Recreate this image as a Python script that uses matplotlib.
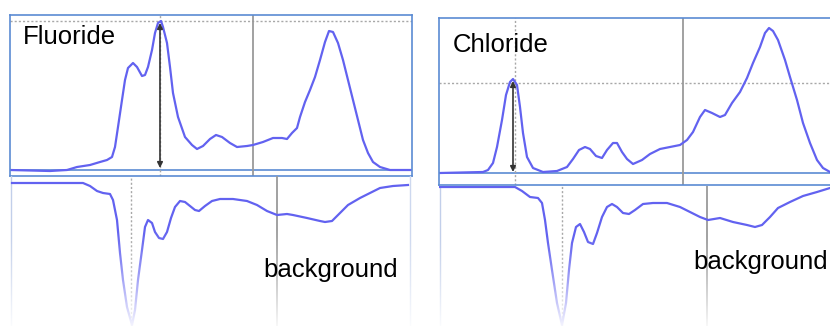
import numpy as np
import matplotlib
matplotlib.use("Agg")
import matplotlib.pyplot as plt

plt.rcParams['font.family'] = ['Liberation Sans', 'DejaVu Sans']

# --- traces (scan position, signal above baseline) ---
fl_x = [10, 50, 67, 77, 90, 100, 107, 112, 115, 118, 122, 125, 128, 133, 137, 142, 145,
        148, 152, 155, 158, 161, 163, 167, 170, 173, 178, 185, 192, 197, 203, 210, 216,
        222, 230, 237, 247, 253, 263, 273, 282, 287, 292, 297, 300, 305, 310, 315, 320,
        325, 329, 333, 338, 343, 348, 353, 358, 363, 368, 373, 380, 390, 410]
fl_y = [0, -1, 0, 3, 5, 8, 10, 13, 23, 43, 70, 90, 102, 107, 103, 94, 95,
        103, 120, 137, 147, 149, 143, 127, 103, 77, 53, 33, 25, 21, 24, 31, 35,
        33, 27, 23, 24, 25, 28, 32, 32, 31, 37, 42, 53, 68, 80, 93, 110,
        128, 139, 138, 127, 110, 90, 70, 50, 30, 17, 8, 3, 0, 0]

cl_x = [440, 483, 488, 493, 497, 502, 506, 510, 513, 517, 520, 523, 527, 533, 543, 557,
        567, 573, 579, 585, 590, 596, 602, 607, 613, 617, 622, 627, 633, 642, 650, 660,
        670, 680, 687, 693, 700, 705, 712, 720, 725, 732, 740, 747, 753, 760, 765, 769,
        773, 778, 785, 790, 797, 803, 810, 817, 823, 830]
cl_y = [0, 1, 3, 10, 26, 53, 78, 91, 94, 88, 66, 40, 16, 5, 1, 2,
        6, 14, 23, 26, 24, 17, 15, 23, 30, 30, 21, 14, 9, 13, 19, 24,
        26, 28, 33, 41, 56, 63, 60, 56, 58, 70, 81, 95, 110, 126, 140, 145,
        142, 133, 113, 96, 73, 50, 30, 13, 5, 1]

bgf_x = [12, 83, 90, 97, 103, 110, 113, 117, 120, 123, 127, 132, 135, 138, 142, 145, 148,
         152, 155, 159, 163, 167, 171, 175, 180, 185, 190, 195, 199, 205, 212, 220, 233,
         247, 257, 267, 277, 287, 293, 307, 320, 325, 332, 340, 348, 360, 370, 380, 393,
         408]
bgf_y = [0, 0, -3, -8, -10, -11, -17, -37, -70, -97, -124, -142, -127, -97, -67, -44, -37,
         -40, -49, -55, -56, -49, -35, -24, -18, -19, -23, -27, -28, -23, -18, -16, -16,
         -18, -22, -28, -32, -31, -32, -35, -38, -39, -38, -30, -22, -15, -10, -5, -3,
         -2]

bgc_x = [440, 515, 522, 530, 538, 542, 545, 548, 552, 557, 562, 566, 569, 572, 576, 580,
         584, 588, 593, 597, 602, 607, 612, 617, 623, 629, 635, 643, 653, 667, 680, 690,
         700, 708, 720, 733, 747, 755, 762, 770, 778, 790, 803, 817, 830]
bgc_y = [1, 1, -3, -9, -10, -15, -32, -55, -82, -115, -137, -115, -82, -55, -39, -36,
         -44, -54, -56, -45, -29, -19, -16, -19, -25, -26, -22, -16, -15, -15, -19, -24,
         -29, -32, -30, -34, -37, -39, -37, -29, -20, -14, -8, -4, 0]

panel_titles = ['Fluoride', 'Chloride']
bg_label = 'background'

# peak markers and window split
fl_peak_x, fl_peak_top = 160, 149
cl_peak_x, cl_peak_top = 515, 90
fl_arrow_x, cl_arrow_x = 160, 513
fl_split_x, cl_split_x = 253, 683
bgf_peak_x, bgc_peak_x = 131, 562
bgf_split_x, bgc_split_x = 277, 707

TRACE = '#6262f0'
FRAME = '#5b8bd3'
GREY = '#9a9a9a'
DOT = '#a8a8a8'
DOTTED = (0, (1.5, 1.5))

W, H = 830, 326
fig = plt.figure(figsize=(W / 100, H / 100), dpi=100)


def add_axes(x0, y0, x1, y1):
    # pixel box (top-left origin) -> figure fraction
    return fig.add_axes([x0 / W, (H - y1) / H, (x1 - x0) / W, (y1 - y0) / H])


def style_top(ax):
    ax.set_xticks([])
    ax.set_yticks([])
    for s in ax.spines.values():
        s.set_color(FRAME)
        s.set_linewidth(1.2)


def peak_arrow(ax, x, top, bottom):
    ax.annotate('', xy=(x, top), xytext=(x, bottom),
                arrowprops=dict(arrowstyle='<|-|>', color='#333333', lw=1.2,
                                mutation_scale=8, shrinkA=0, shrinkB=0))


def fade_out(ax):
    # white veil that grows towards the bottom, like a reflected screenshot
    x0, x1 = ax.get_xlim()
    y0, y1 = ax.get_ylim()
    n = 200
    t = np.linspace(0, 1, n)  # 0 = top row, 1 = bottom row
    a = np.clip((t - 0.35) / 0.65, 0, 1) ** 1.2 * 0.93
    img = np.ones((n, 1, 4))
    img[:, 0, 3] = a
    ax.imshow(img, extent=[x0, x1, y0, y1], origin='upper', aspect='auto',
              zorder=5, interpolation='bilinear')
    ax.set_xlim(x0, x1)
    ax.set_ylim(y0, y1)


# ---------------- top panels ----------------
ax_fl = add_axes(10, 15, 412, 176)
ax_fl.set_xlim(10, 412)
ax_fl.set_ylim(-6, 155)
style_top(ax_fl)
ax_fl.axhline(0, color=FRAME, lw=1.2)
ax_fl.axhline(fl_peak_top, color=DOT, lw=1, ls=DOTTED)
ax_fl.axvline(fl_peak_x, color=DOT, lw=1, ls=DOTTED)
ax_fl.axvline(fl_split_x, color=GREY, lw=1.3)
ax_fl.plot(fl_x, fl_y, color=TRACE, lw=1.6)
peak_arrow(ax_fl, fl_arrow_x, fl_peak_top - 2, 2)
ax_fl.text(23, 133, panel_titles[0], fontsize=18.5, ha='left', va='center')

ax_cl = add_axes(439, 18, 834, 185)
ax_cl.set_xlim(439, 834)
ax_cl.set_ylim(-12, 155)
style_top(ax_cl)
ax_cl.axhline(0, color=FRAME, lw=1.2)
ax_cl.axhline(cl_peak_top, color=DOT, lw=1, ls=DOTTED)
ax_cl.axvline(cl_peak_x, color=DOT, lw=1, ls=DOTTED)
ax_cl.axvline(cl_split_x, color=GREY, lw=1.3)
ax_cl.plot(cl_x, cl_y, color=TRACE, lw=1.6)
peak_arrow(ax_cl, cl_arrow_x, cl_peak_top + 2, 1)
ax_cl.text(453, 128, panel_titles[1], fontsize=18.5, ha='left', va='center')

# ---------------- background panels ----------------
ax_bf = add_axes(10, 176, 412, 326)
ax_bf.set_xlim(10, 412)
ax_bf.set_ylim(-143, 7)
ax_bc = add_axes(439, 186, 834, 326)
ax_bc.set_xlim(439, 834)
ax_bc.set_ylim(-138, 2)

for ax in (ax_bf, ax_bc):
    ax.axis('off')

ax_bf.axvline(10.5, color='#c2cfea', lw=1.0)
ax_bf.axvline(410, color='#cdd8ef', lw=1.0)
ax_bf.axvline(bgf_peak_x, color=DOT, lw=1.0, ls=DOTTED)
ax_bf.axvline(bgf_split_x, color=GREY, lw=1.3)
ax_bf.plot(bgf_x, bgf_y, color=TRACE, lw=1.6)
fade_out(ax_bf)
ax_bf.text(331, -87, bg_label, fontsize=18.5, ha='center', va='center', zorder=10)

ax_bc.axvline(439.5, color='#c2cfea', lw=1.0)
ax_bc.axvline(bgc_peak_x, color=DOT, lw=1.0, ls=DOTTED)
ax_bc.axvline(bgc_split_x, color=GREY, lw=1.3)
ax_bc.plot(bgc_x, bgc_y, color=TRACE, lw=1.6)
fade_out(ax_bc)
ax_bc.text(693, -74, bg_label, fontsize=18.5, ha='left', va='center', zorder=10)

fig.savefig('out.png', dpi=100)
